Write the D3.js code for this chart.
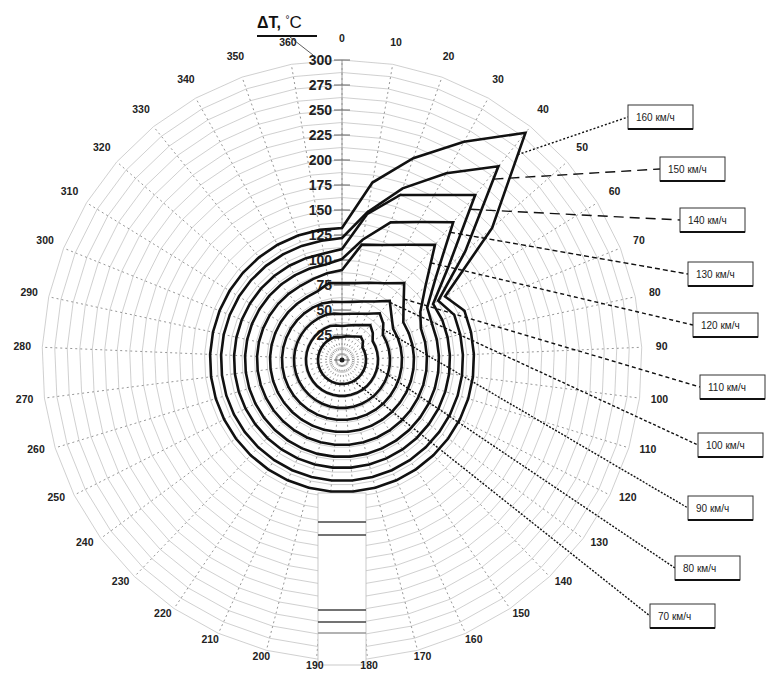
<!DOCTYPE html>
<html>
<head>
<meta charset="utf-8">
<script src="https://cdn.jsdelivr.net/npm/d3@7"></script>
<style>
  body { margin: 0; background: #fff; }
  svg { display: block; font-family: "Liberation Sans", Arial, sans-serif; }
</style>
</head>
<body>
<svg id="svg" width="767" height="674"></svg>
<script>
// categories (angle, degrees) - radar with 37 spokes, 0 and 360 are both present
const angleLabels = [0, 10, 20, 30, 40, 50, 60, 70, 80, 90, 100, 110, 120, 130, 140, 150, 160, 170, 180,
    190, 200, 210, 220, 230, 240, 250, 260, 270, 280, 290, 300, 310, 320, 330, 340, 350, 360];

const radialTicks = [0, 25, 50, 75, 100, 125, 150, 175, 200, 225, 250, 275, 300];
const gridLevels = [12.5, 25, 37.5, 50, 62.5, 75, 87.5, 100, 112.5, 125, 137.5, 150, 162.5, 175,
    187.5, 200, 212.5, 225, 237.5, 250, 262.5, 275, 287.5, 300];

const speedNames = ["160 км/ч", "150 км/ч", "140 км/ч", "130 км/ч", "120 км/ч",
    "110 км/ч", "100 км/ч", "90 км/ч", "80 км/ч", "70 км/ч"];

// ΔT, °C per angle
const dt160 = [132, 180, 214, 250, 292, 200, 121, 132, 132, 132, 132, 132, 132, 132, 132, 132, 132, 132, 132,
    132, 132, 132, 132, 132, 132, 132, 132, 132, 132, 132, 132, 132, 132, 132, 132, 132, 132];
const dt150 = [122, 150, 182, 214, 249, 164, 113, 121, 121, 121, 121, 121, 121, 121, 121, 121, 121, 121, 121,
    121, 121, 121, 121, 121, 121, 121, 121, 121, 121, 121, 121, 121, 121, 121, 121, 121, 121];
const dt140 = [111, 148, 175, 189, 212, 142, 107, 108, 108, 108, 108, 108, 108, 108, 108, 108, 108, 108, 108,
    108, 108, 108, 108, 108, 108, 108, 108, 108, 108, 108, 108, 108, 108, 108, 108, 108, 108];
const dt130 = [101, 122, 146, 158, 177, 125, 100, 97, 97, 97, 97, 97, 97, 97, 97, 97, 97, 97, 97,
    97, 97, 97, 97, 97, 97, 97, 97, 97, 97, 97, 97, 97, 97, 97, 97, 97, 97];
const dt120 = [90, 117, 122, 132, 148, 111, 92, 85, 85, 85, 85, 85, 85, 85, 85, 85, 85, 85, 85,
    85, 85, 85, 85, 85, 85, 85, 85, 85, 85, 85, 85, 85, 85, 85, 85, 86, 88];
const dt110 = [77, 78, 82, 88, 99, 82, 72, 72, 72, 72, 72, 72, 72, 72, 72, 72, 72, 72, 72,
    72, 72, 72, 72, 72, 72, 72, 72, 72, 72, 72, 72, 72, 72, 72, 72, 73, 78];
const dt100 = [58, 59, 62, 67, 76, 66, 60, 60, 60, 60, 60, 60, 60, 60, 60, 60, 60, 60, 60,
    60, 60, 60, 60, 60, 60, 60, 60, 60, 60, 60, 60, 60, 60, 60, 60, 60, 59];
const dt90 = [46, 47, 49, 53, 60, 55, 48, 48, 48, 48, 48, 48, 48, 48, 48, 48, 48, 48, 48,
    48, 48, 48, 48, 48, 48, 48, 48, 48, 48, 48, 48, 48, 48, 48, 48, 48, 47];
const dt80 = [34, 35, 37, 40, 45, 41, 36, 36, 36, 36, 36, 36, 36, 36, 36, 36, 36, 36, 36,
    36, 36, 36, 36, 36, 36, 36, 36, 36, 36, 36, 36, 36, 36, 36, 36, 36, 35];
const dt70 = [23, 24, 25, 27, 30, 28, 24, 24, 24, 24, 24, 24, 24, 24, 24, 24, 24, 24, 24,
    24, 24, 24, 24, 24, 24, 24, 24, 24, 24, 24, 24, 24, 24, 24, 24, 24, 23];

const seriesValues = [dt160, dt150, dt140, dt130, dt120, dt110, dt100, dt90, dt80, dt70];

// where each callout touches its curve: segment start index + fraction along it
const calloutSeg = [4, 4, 4, 4, 4, 4, 4, 5, 10, 15];
const calloutFrac = [0.23, 0.15, 0.2, 0.18, 0.43, 0.7, 0.1, 0.5, 0.5, 0.5];
const calloutDash = ["2,2", "10,6", "10,6", "5,3", "4,3", "4,3", "3,2", "2,1.5", "2,1.5", "2,1.5"];
const calloutBox = [[628, 105], [660, 157], [680, 208], [688, 262], [693, 313],
    [700, 375], [698, 433], [688, 496], [675, 556], [650, 604]];

let svg = d3.select("#svg");
const cx = 342, cy = 360;
const n = angleLabels.length;

let angle = d3.scaleLinear().domain([0, n]).range([0, 2 * Math.PI]);
let rScale = d3.scaleLinear().domain([0, 300]).range([0, 300]);

function point(i, v) {
    return [cx + rScale(v) * Math.sin(angle(i)), cy - rScale(v) * Math.cos(angle(i))];
}

let chart = svg.append("g").attr("transform", "translate(" + cx + "," + cy + ")");

let ring = d3.lineRadial()
    .angle((d, i) => angle(i))
    .radius(d => rScale(d))
    .curve(d3.curveLinearClosed);

// grid polygons
chart.selectAll(".grid")
    .data(gridLevels)
    .enter().append("path")
    .attr("class", "grid")
    .attr("d", lv => ring(angleLabels.map(() => lv)))
    .attr("fill", "none")
    .attr("stroke", "#c4c4c4")
    .attr("stroke-width", 0.8);

// spokes
chart.selectAll(".spoke")
    .data(angleLabels)
    .enter().append("line")
    .attr("class", "spoke")
    .attr("x1", 0).attr("y1", 0)
    .attr("x2", (d, i) => rScale(300) * Math.sin(angle(i)))
    .attr("y2", (d, i) => -rScale(300) * Math.cos(angle(i)))
    .attr("stroke", "#8a8a8a")
    .attr("stroke-width", 0.9)
    .attr("stroke-dasharray", "2,3");

// white strip at the bottom of the original figure
const stripLines = [162, 175, 250, 262, 273];
chart.append("rect")
    .attr("x", -24).attr("y", rScale(133))
    .attr("width", 48).attr("height", rScale(305) - rScale(133))
    .attr("fill", "#fff")
    .attr("stroke", "#bbb")
    .attr("stroke-width", 0.8);
chart.selectAll(".stripline")
    .data(stripLines)
    .enter().append("line")
    .attr("x1", -24).attr("x2", 24)
    .attr("y1", d => rScale(d)).attr("y2", d => rScale(d))
    .attr("stroke", (d, i) => i == 4 ? "#999" : "#444")
    .attr("stroke-width", 1.3);

// radial value axis along 0
chart.append("line")
    .attr("x1", 0).attr("y1", 0).attr("x2", 0).attr("y2", -rScale(300))
    .attr("stroke", "#9a9a9a").attr("stroke-width", 1);
chart.selectAll(".tick")
    .data(radialTicks)
    .enter().append("line")
    .attr("x1", -8).attr("x2", 8)
    .attr("y1", d => -rScale(d)).attr("y2", d => -rScale(d))
    .attr("stroke", "#666").attr("stroke-width", 1);
chart.selectAll(".rlabel")
    .data(radialTicks.filter(d => d > 0))
    .enter().append("text")
    .attr("x", -10)
    .attr("y", d => -rScale(d))
    .attr("dy", "0.36em")
    .attr("text-anchor", "end")
    .style("font-size", "14px")
    .style("font-weight", "bold")
    .attr("fill", "#222")
    .text(d => d);

// angle labels (bottom ones sit a little closer, as in the original)
chart.selectAll(".alabel")
    .data(angleLabels)
    .enter().append("text")
    .attr("x", (d, i) => 320 * Math.sin(angle(i)))
    .attr("y", (d, i) => {
        let c = Math.cos(angle(i));
        return c > 0 ? -322 * c : -306 * c;
    })
    .attr("dy", "0.35em")
    .attr("text-anchor", "middle")
    .style("font-size", "10.5px")
    .style("font-weight", "bold")
    .attr("fill", "#222")
    .text(d => d);

// series curves
chart.selectAll(".series")
    .data(seriesValues)
    .enter().append("path")
    .attr("class", "series")
    .attr("d", d => ring(d))
    .attr("fill", "none")
    .attr("stroke", "#111")
    .attr("stroke-width", 2.6)
    .attr("stroke-linejoin", "miter");

// centre dot
chart.append("circle").attr("r", 2.5).attr("fill", "#222");

// callouts
seriesValues.forEach((vals, k) => {
    let a = calloutSeg[k], t = calloutFrac[k];
    let p0 = point(a, vals[a]), p1 = point((a + 1) % n, vals[(a + 1) % n]);
    let ax = p0[0] + (p1[0] - p0[0]) * t, ay = p0[1] + (p1[1] - p0[1]) * t;
    let bx = calloutBox[k][0], by = calloutBox[k][1];
    let bw = 65, bh = 24;
    svg.append("line")
        .attr("x1", ax).attr("y1", ay)
        .attr("x2", bx).attr("y2", by + bh / 2)
        .attr("stroke", "#111")
        .attr("stroke-width", 1.4)
        .attr("stroke-dasharray", calloutDash[k]);
    svg.append("rect")
        .attr("x", bx).attr("y", by).attr("width", bw).attr("height", bh)
        .attr("fill", "#fff").attr("stroke", "#333").attr("stroke-width", 1);
    svg.append("line")
        .attr("x1", bx).attr("x2", bx + bw)
        .attr("y1", by + bh).attr("y2", by + bh)
        .attr("stroke", "#111").attr("stroke-width", 2);
    svg.append("text")
        .attr("x", bx + 8).attr("y", by + bh / 2)
        .attr("dy", "0.35em")
        .style("font-size", "10px")
        .attr("fill", "#222")
        .text(speedNames[k]);
});

// axis title
let title = svg.append("text")
    .attr("x", 257).attr("y", 28)
    .style("font-size", "16px")
    .attr("fill", "#111");
title.append("tspan").style("font-weight", "bold").text("ΔT, ");
title.append("tspan").attr("dy", -5).style("font-size", "10px").text("°");
title.append("tspan").attr("dy", 5).style("font-size", "17px").text("C");
svg.append("line")
    .attr("x1", 257).attr("x2", 317).attr("y1", 36).attr("y2", 36)
    .attr("stroke", "#111").attr("stroke-width", 2);
svg.append("line")
    .attr("x1", 290).attr("x2", 313).attr("y1", 37).attr("y2", 55)
    .attr("stroke", "#333").attr("stroke-width", 0.8);
</script>
</body>
</html>
